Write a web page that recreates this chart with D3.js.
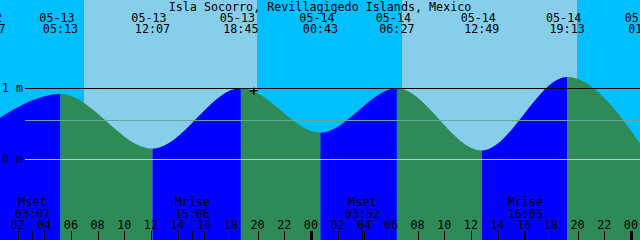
<!DOCTYPE html>
<html>
<head>
<meta charset="utf-8">
<script src="https://cdn.jsdelivr.net/npm/d3@7"></script>
<style>
  body { margin: 0; background: #fff; }
  svg { display: block; }
  text { font-family: "DejaVu Sans Mono", monospace; font-size: 11.7px; fill: #000; }
</style>
</head>
<body>
<div id="chart"></div>
<script>
const W = 640, H = 240;

const title = "Isla Socorro, Revillagigedo Islands, Mexico";

// high / low tides (the first and last sit just outside the window)
const tideDate   = ["05-12", "05-13", "05-13", "05-13", "05-14", "05-14", "05-14", "05-14", "05-15"];
const tideTime   = ["23:47", "05:13", "12:07", "18:45", "00:43", "06:27", "12:49", "19:13", "01:07"];
const tideHeight = [0.47, 0.915, 0.145, 1.0, 0.37, 0.995, 0.12, 1.155, 0.11];

// sunrise / sunset
const sunEvent = ["05-13 06:58", "05-13 19:57", "05-14 06:49", "05-14 19:57"];

// moon
const moonLabel = ["Mset", "Mrise", "Mset", "Mrise"];
const moonTime  = ["03:07", "15:06", "03:52", "16:05"];
const moonDate  = ["05-13", "05-13", "05-14", "05-14"];

const levelMarks = [1, 0];          // labelled lines, metres
const meanLevel = 0.545;            // middle line
const nowMark = {when: "05-13 19:43", h: 0.96};

const col = {day: "#87CEEB", night: "#00BFFF", flood: "#0000FF", ebb: "#2E8B57"};

const parse = d3.timeParse("%Y-%m-%d %H:%M");
const t = s => parse("2024-" + s);

const x = d3.scaleTime().domain([t("05-13 00:41"), t("05-15 00:41")]).range([0, W]);
const y = d3.scaleLinear().domain([0, 1]).range([159, 88]);

const tides = tideTime.map((tm, i) => ({t: t(tideDate[i] + " " + tm), h: tideHeight[i], date: tideDate[i], time: tm}));

let svg = d3.select("#chart").append("svg")
  .attr("width", W)
  .attr("height", H);

// sky: night / day bands
let edges = [x.domain()[0]].concat(sunEvent.map(t)).concat([x.domain()[1]]);
for (let i = 0; i < edges.length - 1; i++) {
  svg.append("rect")
    .attr("x", x(edges[i]))
    .attr("width", x(edges[i + 1]) - x(edges[i]))
    .attr("y", 0).attr("height", H)
    .attr("fill", i % 2 ? col.day : col.night)
    .attr("shape-rendering", "crispEdges");
}

// water, coloured by flood / ebb
const area = d3.area()
  .x(d => x(d.t))
  .y0(H)
  .y1(d => y(d.h))
  .curve(d3.curveMonotoneX);

let defs = svg.append("defs");
for (let i = 0; i < tides.length - 1; i++) {
  defs.append("clipPath").attr("id", "seg" + i)
    .append("rect")
    .attr("x", x(tides[i].t))
    .attr("width", x(tides[i + 1].t) - x(tides[i].t))
    .attr("y", 0).attr("height", H);
  svg.append("path")
    .attr("d", area(tides))
    .attr("clip-path", "url(#seg" + i + ")")
    .attr("fill", tides[i + 1].h > tides[i].h ? col.flood : col.ebb);
}

// level lines
svg.append("line")
  .attr("x1", 25).attr("x2", W)
  .attr("y1", Math.round(y(meanLevel)) + 0.5).attr("y2", Math.round(y(meanLevel)) + 0.5)
  .attr("stroke", "#5FA89C");
svg.append("line")
  .attr("x1", 25).attr("x2", W)
  .attr("y1", Math.round(y(0)) + 0.5).attr("y2", Math.round(y(0)) + 0.5)
  .attr("stroke", "#B4C6E6");
svg.append("line")
  .attr("x1", 25).attr("x2", W)
  .attr("y1", Math.round(y(1)) + 0.5).attr("y2", Math.round(y(1)) + 0.5)
  .attr("stroke", "#000");

svg.selectAll(".lvl").data(levelMarks).enter().append("text")
  .attr("x", 2)
  .attr("y", d => y(d) + 4)
  .text(d => d + " m");

// now marker
let nx = x(t(nowMark.when)), ny = y(nowMark.h);
svg.append("path")
  .attr("d", "M" + (nx - 4) + "," + ny + "H" + (nx + 4) + "M" + nx + "," + (ny - 3) + "V" + (ny + 4))
  .attr("stroke", "#000").attr("stroke-width", 1.5);

// title and tide labels
svg.append("text")
  .attr("x", W / 2).attr("y", 10.5)
  .attr("text-anchor", "middle")
  .text(title);

let tl = svg.selectAll(".tl").data(tides).enter().append("g");
tl.append("text")
  .attr("x", d => x(d.t) - 3.5).attr("y", 21.5)
  .attr("text-anchor", "middle")
  .text(d => d.date);
tl.append("text")
  .attr("x", d => x(d.t)).attr("y", 32.5)
  .attr("text-anchor", "middle")
  .text(d => d.time);

// moon events
let moons = moonLabel.map((m, i) => ({label: m, time: moonTime[i], t: t(moonDate[i] + " " + moonTime[i])}));
let ml = svg.selectAll(".ml").data(moons).enter().append("g");
ml.append("text")
  .attr("x", d => x(d.t)).attr("y", 206)
  .attr("text-anchor", "middle")
  .text(d => d.label);
ml.append("text")
  .attr("x", d => x(d.t)).attr("y", 218)
  .attr("text-anchor", "middle")
  .text(d => d.time);
ml.append("line")
  .attr("x1", d => Math.round(x(d.t)) + 0.5).attr("x2", d => Math.round(x(d.t)) + 0.5)
  .attr("y1", 231).attr("y2", H)
  .attr("stroke", "#000");

// hour axis
let hours = d3.timeHour.every(2).range(x.domain()[0], x.domain()[1]);
let fmt = d3.timeFormat("%H");
svg.selectAll(".hr").data(hours).enter().append("text")
  .attr("x", d => x(d)).attr("y", 229)
  .attr("text-anchor", "middle")
  .text(d => fmt(d));
svg.selectAll(".tk").data(hours).enter().append("line")
  .attr("x1", d => Math.round(x(d)) + 0.5).attr("x2", d => Math.round(x(d)) + 0.5)
  .attr("y1", 231).attr("y2", H)
  .attr("stroke", "#000")
  .attr("stroke-width", d => d.getHours() == 0 ? 3 : 1);
</script>
</body>
</html>
